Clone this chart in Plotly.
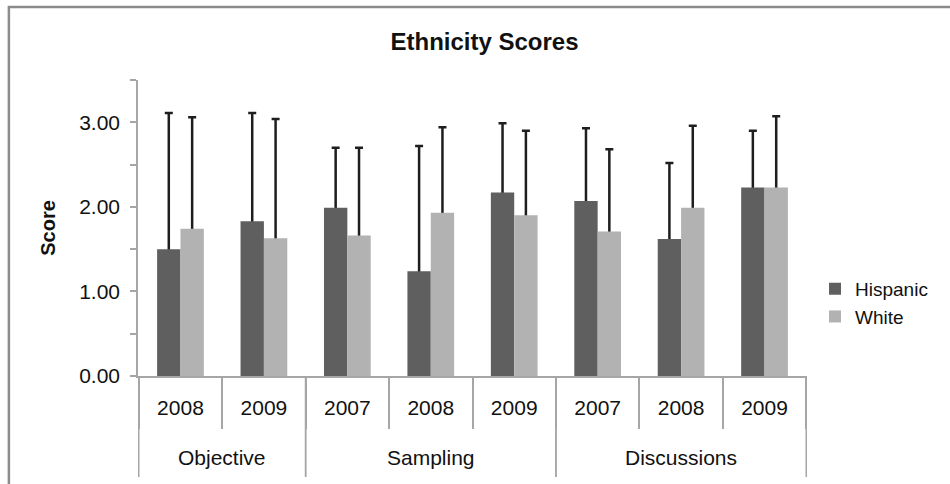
import plotly.graph_objects as go

groups = ["Objective", "Objective", "Sampling", "Sampling", "Sampling",
          "Discussions", "Discussions", "Discussions"]
years = ["2008", "2009", "2007", "2008", "2009", "2007", "2008", "2009"]

hispanic = [1.50, 1.83, 1.99, 1.24, 2.17, 2.07, 1.62, 2.23]
hispanic_err = [1.61, 1.28, 0.71, 1.48, 0.82, 0.86, 0.90, 0.67]
white = [1.74, 1.63, 1.66, 1.93, 1.90, 1.71, 1.99, 2.23]
white_err = [1.32, 1.41, 1.04, 1.01, 1.00, 0.97, 0.97, 0.84]

H_COLOR = "#5f5f5f"
W_COLOR = "#b2b2b2"
AXIS_COLOR = "#a6a6a6"
ERR_COLOR = "#1e1e1e"
TEXT_COLOR = "#111111"
FONT = "Liberation Sans, Arial, sans-serif"

# unique category keys (group + year), shown with the year as tick text
keys = [f"{g} {y}" for g, y in zip(groups, years)]

fig = go.Figure()

# Error bar carriers (drawn first, so the visible bars hide their lower end)
for vals, errs, og in [(hispanic, hispanic_err, "H"), (white, white_err, "W")]:
    fig.add_trace(go.Bar(
        x=keys, y=vals, offsetgroup=og, showlegend=False, hoverinfo="skip",
        marker=dict(color="rgba(0,0,0,0)", line=dict(width=0)),
        error_y=dict(type="data", symmetric=False, array=errs,
                     arrayminus=[0.06] * len(errs), color=ERR_COLOR,
                     thickness=2.5, width=4),
    ))

for name, vals, color, og in [("Hispanic", hispanic, H_COLOR, "H"),
                              ("White", white, W_COLOR, "W")]:
    fig.add_trace(go.Bar(
        x=keys, y=vals, name=name, offsetgroup=og,
        marker=dict(color=color, line=dict(width=0)),
    ))

fig.update_layout(
    width=950, height=484,
    margin=dict(l=138, r=143, t=80, b=108),
    paper_bgcolor="white", plot_bgcolor="white",
    barmode="group", bargap=0.44, bargroupgap=0,
    font=dict(family=FONT, size=20, color=TEXT_COLOR),
    title=dict(text="<b>Ethnicity Scores</b>", x=0.51, xanchor="center",
               y=0.915, yanchor="middle", font=dict(size=24, color=TEXT_COLOR)),
    legend=dict(x=1.012, xanchor="left", y=0.247, yanchor="middle",
                font=dict(size=19), itemwidth=30, tracegroupgap=0,
                bgcolor="rgba(0,0,0,0)"),
    showlegend=True,
)

fig.update_yaxes(
    range=[0, 3.5], dtick=1, tick0=0, tickformat=".2f",
    showgrid=False, zeroline=False,
    showline=True, linecolor=AXIS_COLOR, linewidth=1.5,
    ticks="outside", ticklen=6, tickcolor=AXIS_COLOR, tickwidth=1.5,
    minor=dict(dtick=0.5, ticks="outside", ticklen=6, tickcolor=AXIS_COLOR,
               tickwidth=1.5, showgrid=False),
    ticklabelstandoff=6,
    tickfont=dict(size=21, color=TEXT_COLOR),
    title=dict(text="<b>Score</b>", font=dict(size=20, color=TEXT_COLOR),
               standoff=18),
)

fig.update_xaxes(
    type="category",
    tickvals=keys, ticktext=years,
    showgrid=False, zeroline=False,
    showline=True, linecolor=AXIS_COLOR, linewidth=1.5,
    ticks="outside", tickson="boundaries", ticklen=51,
    tickcolor=AXIS_COLOR, tickwidth=1.5,
    ticklabelstandoff=12,
    tickfont=dict(size=21, color=TEXT_COLOR),
)

# group labels and group dividers, derived from the category indices
DIV_DEPTH = -0.341
LABEL_Y = -0.277
order = []
for g in groups:
    if g not in order:
        order.append(g)
for g in order:
    idx = [i for i, gg in enumerate(groups) if gg == g]
    fig.add_annotation(x=sum(idx) / len(idx), xref="x", y=LABEL_Y, yref="paper",
                       text=g, showarrow=False, yanchor="middle",
                       font=dict(size=21, color=TEXT_COLOR))
    for b in (idx[0] - 0.5, idx[-1] + 0.5):
        fig.add_shape(type="line", xref="x", yref="paper", x0=b, x1=b,
                      y0=0, y1=DIV_DEPTH,
                      line=dict(color=AXIS_COLOR, width=1.5))

# outer chart border
fig.add_shape(type="rect", xref="paper", yref="paper",
              x0=-0.193, x1=1.3, y0=-0.5, y1=1.247,
              line=dict(color="#8c8c8c", width=2.5), fillcolor="rgba(0,0,0,0)",
              layer="below")

fig.write_html("out.html", config={"displayModeBar": False},
               post_script="document.body.style.margin='0';")
